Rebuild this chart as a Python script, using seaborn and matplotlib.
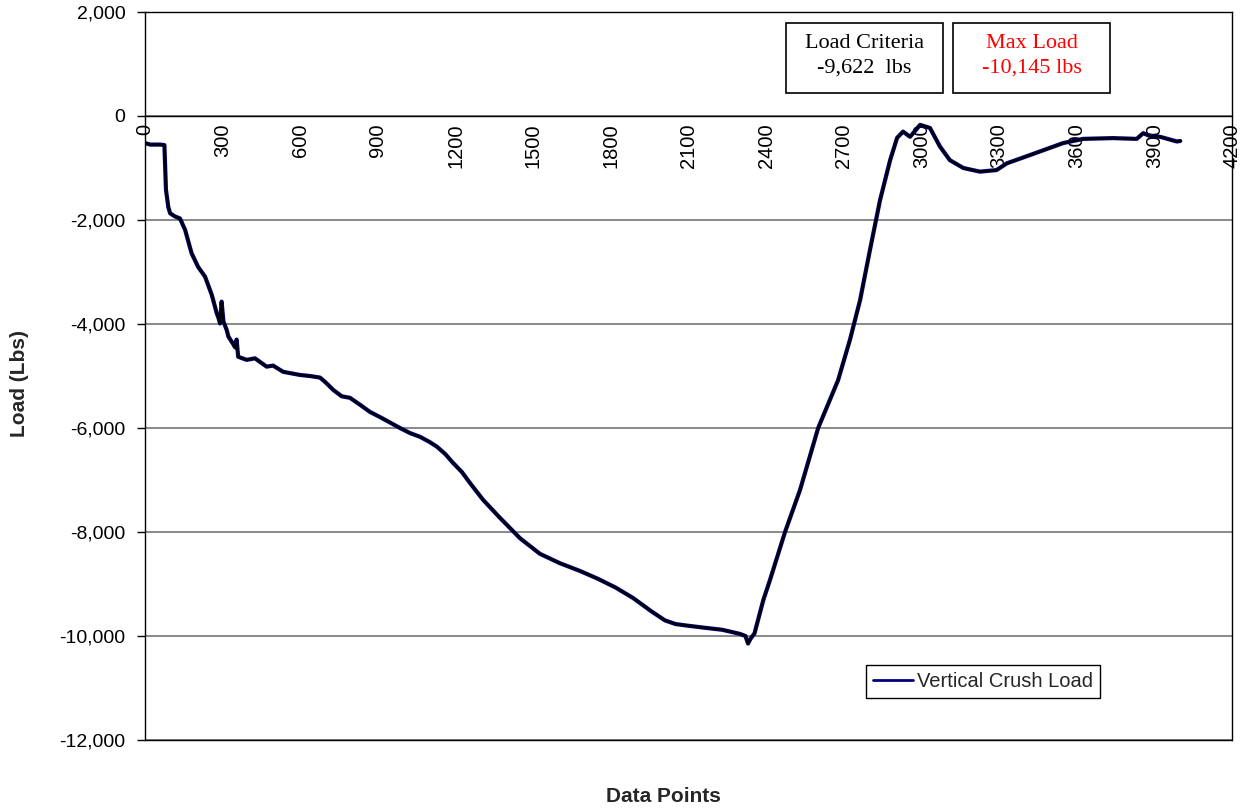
import pandas as pd
import matplotlib.pyplot as plt
import matplotlib.patches as mpatches
from matplotlib.ticker import FuncFormatter
import seaborn as sns

points = [0, 20, 40, 60, 75, 81, 90, 97, 115, 135, 155, 180, 205, 232, 258, 277,
          285, 290, 296, 303, 316, 322, 340, 348, 354, 360, 393, 425, 470, 495,
          534, 599, 637, 676, 695, 728, 760, 792, 830, 869, 908, 945, 985, 1025,
          1063, 1100, 1128, 1160, 1190, 1225, 1256, 1306, 1372, 1449, 1526, 1603,
          1681, 1750, 1819, 1886, 1955, 2009, 2050, 2094, 2160, 2230, 2299, 2320,
          2330, 2340, 2355, 2389, 2415, 2473, 2531, 2601, 2678, 2724, 2763, 2801,
          2840, 2879, 2906, 2929, 2956, 2995, 3033, 3072, 3110, 3162, 3226, 3290,
          3330, 3420, 3548, 3625, 3740, 3832, 3857, 3880, 3922, 3987, 4000]
load = [-520, -550, -550, -550, -560, -1420, -1750, -1870, -1930, -1970, -2190,
        -2640, -2900, -3090, -3440, -3790, -3900, -3990, -3570, -3950, -4120,
        -4240, -4380, -4450, -4300, -4630, -4690, -4660, -4820, -4800, -4920,
        -4980, -5000, -5030, -5110, -5270, -5390, -5420, -5550, -5690, -5790,
        -5890, -6000, -6100, -6170, -6270, -6360, -6500, -6670, -6850, -7060,
        -7380, -7730, -8120, -8420, -8600, -8750, -8900, -9070, -9270, -9520,
        -9700, -9770, -9800, -9840, -9880, -9960, -10000, -10145, -10050, -9950,
        -9310, -8920, -8000, -7190, -6000, -5080, -4300, -3540, -2580, -1620,
        -850, -420, -300, -400, -170, -230, -590, -850, -1000, -1070, -1040,
        -910, -750, -520, -440, -425, -440, -330, -380, -400, -490, -480]

x_ticks = list(range(0, 4201, 300))
y_ticks = list(range(-12000, 2001, 2000))
series_name = "Vertical Crush Load"
criteria_text = "Load Criteria\n-9,622  lbs"
max_text = "Max Load\n-10,145 lbs"

df = pd.DataFrame({"point": points, "load": load})

sns.set_style("white")
plt.rcParams["font.family"] = ["Liberation Sans", "DejaVu Sans"]

fig = plt.figure(figsize=(12.47, 8.11), dpi=100)
ax = fig.add_axes([145 / 1247, 1 - 740 / 811, 1087 / 1247, 728 / 811])

sns.lineplot(data=df, x="point", y="load", color="#000080", lw=3.0,
             label=series_name, ax=ax)
sns.lineplot(data=df, x="point", y="load", color="black", lw=1.7,
             legend=False, ax=ax)

ax.set_xlim(0, 4200)
ax.set_ylim(-12000, 2000)
ax.set_xticks(x_ticks)
ax.set_yticks(y_ticks)
ax.yaxis.set_major_formatter(FuncFormatter(lambda v, p: f"{int(v):,}"))
ax.grid(axis="y", color="#6a6a6a", lw=1.1)
ax.set_axisbelow(True)

# x-Achse bei 0
ax.spines["bottom"].set_position(("data", 0))
for s in ["left", "top", "right", "bottom"]:
    ax.spines[s].set_color("black")
    ax.spines[s].set_linewidth(1.0)
ax.plot([0, 1], [0, 0], transform=ax.transAxes, color="black", lw=1.0,
        clip_on=False)

ax.tick_params(axis="x", direction="inout", length=9, width=1, pad=1,
               labelrotation=90, labelsize=14.5, colors="black")
ax.tick_params(axis="y", direction="out", length=6, width=1, pad=8,
               labelsize=14, colors="black", left=True)
ax.set_xlabel("")
ax.set_ylabel("")

fig.text(20 / 1247, 1 - 383 / 811, "Load (Lbs)", rotation=90, fontsize=15,
         fontweight="bold", ha="center", va="center")
fig.text(663 / 1247, 1 - 797 / 811, "Data Points", fontsize=15,
         fontweight="bold", ha="center", va="center")

# Textkaesten
for x0, txt, col in [(786, criteria_text, "black"), (953, max_text, "red")]:
    rect = mpatches.Rectangle((x0 / 1247, 1 - 93 / 811), 157 / 1247, 70 / 811,
                              transform=fig.transFigure, fill=True,
                              facecolor="white", edgecolor="black", lw=1.2)
    fig.patches.append(rect)
    fig.text((x0 + 78.5) / 1247, 1 - 56 / 811, txt, color=col, fontsize=16,
             family="Liberation Serif", ha="center", va="center",
             linespacing=1.4)

leg = ax.legend(loc="upper left", bbox_to_anchor=(0.6633, 0.103),
                borderaxespad=0, fancybox=False, edgecolor="black",
                framealpha=1, fontsize=14.5, handlelength=2.0,
                handletextpad=0.2, borderpad=0.35)
leg.get_frame().set_linewidth(1.0)
for line in leg.get_lines():
    line.set_linewidth(2.0)

fig.savefig("out.png", dpi=100, facecolor="white")
